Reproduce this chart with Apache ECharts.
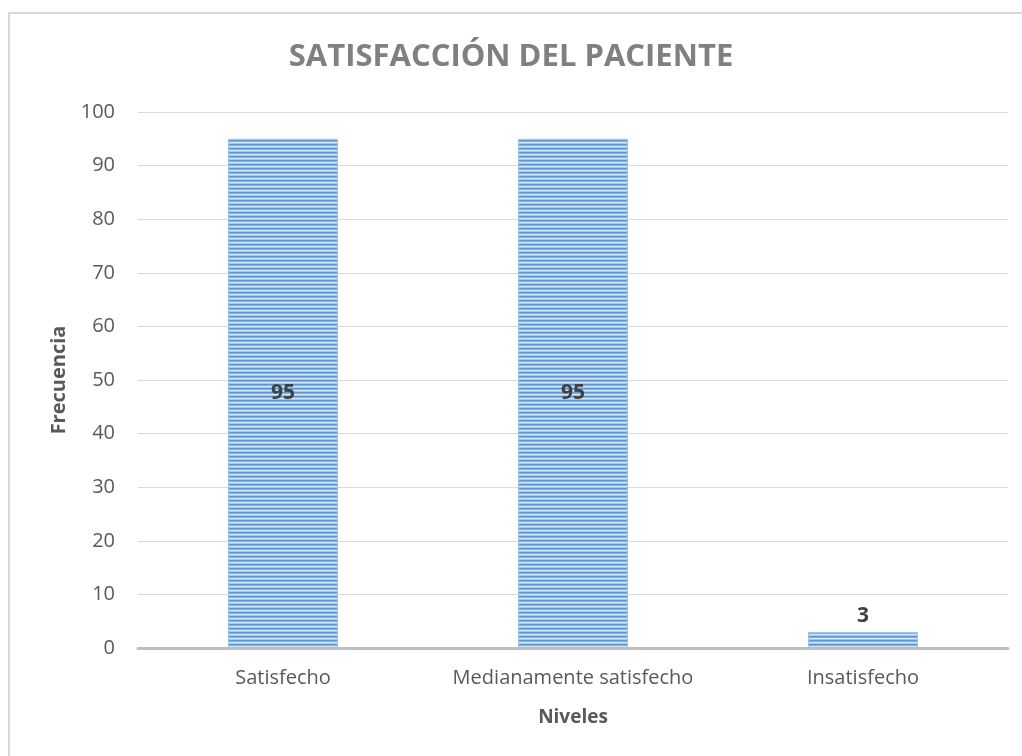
<!DOCTYPE html>
<html>
<head>
<meta charset="utf-8">
<script src="https://cdn.jsdelivr.net/npm/echarts@6/dist/echarts.min.js"></script>
<style>
  html, body { margin: 0; padding: 0; background: #fff; }
  #chart { width: 1022px; height: 756px; }
</style>
</head>
<body>
<div id="chart"></div>
<script>
const categories = ['Satisfecho', 'Medianamente satisfecho', 'Insatisfecho']
const frecuencia = [95, 95, 3]
const yTicks = { min: 0, max: 100, interval: 10 }

// franjas horizontales del relleno de las barras
const makeStripes = () => {
  const c = document.createElement('canvas')
  c.width = 4
  c.height = 4
  const ctx = c.getContext('2d')
  const rows = ['#5b9bd5', '#7eb0e2', '#d6e6f6', '#a3c6ea']
  rows.forEach((col, i) => {
    ctx.fillStyle = col
    ctx.fillRect(0, i, 4, 1)
  })
  return c
}

const chart = echarts.init(document.getElementById('chart'))

const option = {
  backgroundColor: '#fff',
  title: {
    text: 'SATISFACCIÓN DEL PACIENTE',
    left: 'center',
    top: 37,
    textStyle: {
      fontFamily: 'Open Sans',
      fontSize: 31,
      fontWeight: 'bold',
      color: '#808080'
    }
  },
  graphic: [
    {
      type: 'rect',
      shape: { x: 9, y: 13, width: 1030, height: 760 },
      style: { fill: 'none', stroke: '#d9d9d9', lineWidth: 2 },
      silent: true
    }
  ],
  grid: {
    left: 138,
    right: 14,
    top: 112,
    bottom: 108
  },
  xAxis: {
    type: 'category',
    data: categories,
    name: 'Niveles',
    nameLocation: 'middle',
    nameGap: 60,
    nameTextStyle: { fontFamily: 'Open Sans', fontSize: 19, fontWeight: 'bold', color: '#595959' },
    axisLine: { lineStyle: { color: '#bfbfbf', width: 3 } },
    axisTick: { show: false },
    axisLabel: {
      interval: 0,
      hideOverlap: false,
      fontFamily: 'Open Sans',
      fontSize: 20,
      color: '#595959',
      margin: 20
    }
  },
  yAxis: {
    type: 'value',
    min: yTicks.min,
    max: yTicks.max,
    interval: yTicks.interval,
    name: 'Frecuencia',
    nameLocation: 'middle',
    nameGap: 68,
    nameTextStyle: { fontFamily: 'Open Sans', fontSize: 20, fontWeight: 'bold', color: '#595959' },
    axisLine: { show: false },
    axisTick: { show: false },
    axisLabel: { fontFamily: 'Open Sans', fontSize: 20, color: '#595959', margin: 23 },
    splitLine: { lineStyle: { color: '#d9d9d9', width: 1 } }
  },
  series: [
    {
      type: 'bar',
      data: frecuencia.map(v => (v < 10 ? { value: v, label: { position: 'top' } } : v)),
      barWidth: 110,
      itemStyle: {
        color: { image: makeStripes(), repeat: 'repeat' },
        borderColor: '#9dc3e6',
        borderWidth: 1
      },
      label: {
        show: true,
        position: 'inside',
        fontFamily: 'Open Sans',
        fontSize: 21,
        fontWeight: 'bold',
        color: '#404040'
      }
    }
  ]
}

chart.setOption(option)

window.addEventListener('resize', () => {
  chart.resize()
})
</script>
</body>
</html>
